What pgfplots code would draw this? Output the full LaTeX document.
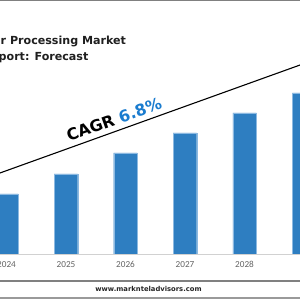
\documentclass[border=0pt]{standalone}
\usepackage{pgfplots}
\pgfplotsset{compat=1.18}
\usepackage{fontspec}
\setmainfont{DejaVu Sans}
\newfontfamily\tickfont{Carlito}
\definecolor{barblue}{RGB}{46,126,193}
\definecolor{baredge}{RGB}{140,185,225}
\definecolor{cagrblue}{RGB}{26,124,207}
\definecolor{ticklab}{RGB}{100,100,100}
\definecolor{rulegray}{RGB}{128,128,128}
\begin{document}
\begin{tikzpicture}[x=1pt,y=1pt]
\fill[white] (0,0) rectangle (300,300);
\begin{scope}
\clip (0,0) rectangle (300,300);
\begin{axis}[
  at={(0pt,46pt)}, anchor=south west,
  scale only axis, width=300pt, height=254pt,
  xmin=-0.1092, xmax=4.9328, ymin=0, ymax=254,
  axis line style={draw=none},
  major tick length=0pt,
  ytick=\empty,
  xtick={0,1,2,3,4,5},
  xticklabels={2024,2025,2026,2027,2028,2029},
  x tick label style={font=\tickfont\fontsize{9.2}{10}\selectfont, text=ticklab, yshift=-3.5pt},
  ybar, bar width=23.5pt,
]
\addplot[fill=barblue, draw=baredge, line width=0.4pt] coordinates {(0,60) (1,80) (2,101) (3,121) (4,141) (5,161)};
\draw[black!18, line width=0.6pt] (axis cs:-0.2,0) -- (axis cs:5.2,0);
\end{axis}
% trend line
\draw[black, line width=1.1pt] (-2,126.3) -- (302,235.7);
\node[anchor=base west, inner sep=0pt, rotate=19.8, font=\bfseries\fontsize{16}{16}\selectfont] at (69,158) {CAGR \textcolor{cagrblue}{6.8\%}};
% title
\node[anchor=base west, inner sep=0pt, font=\bfseries\fontsize{11.1}{12}\selectfont, text=black!88] at (0.5,255) {r Processing Market};
\node[anchor=base west, inner sep=0pt, font=\bfseries\fontsize{11.1}{12}\selectfont, text=black!88] at (-1.5,239) {port: Forecast};
% rules
\draw[rulegray, line width=1.6pt] (0,299.5) -- (300,299.5);
\draw[rulegray, line width=1.4pt] (0,19) -- (300,19);
\draw[rulegray!80, line width=1.4pt] (0,2) -- (300,2);
\node[anchor=base, inner sep=0pt, font=\bfseries\fontsize{6.8}{7}\selectfont, text=black!85] at (148.5,8.5) {www.marknteladvisors.com};
\end{scope}
\pgfresetboundingbox
\useasboundingbox (0,0) rectangle (300,300);
\end{tikzpicture}
\end{document}
